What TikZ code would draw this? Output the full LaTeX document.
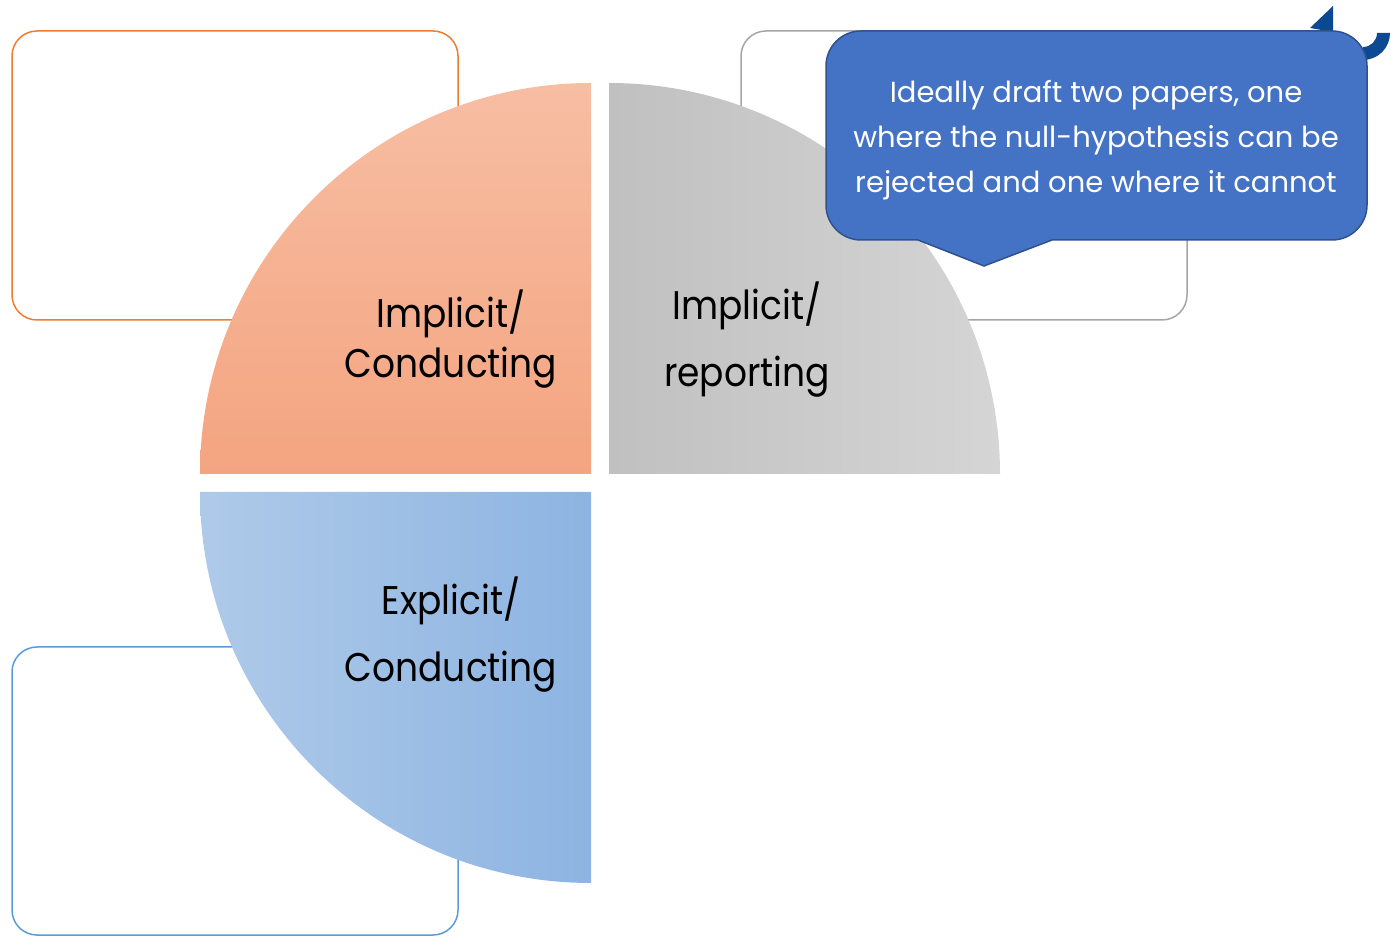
\documentclass[tikz,border=0pt]{standalone}
\usepackage{fontspec}
\setmainfont{Poppins}
\newfontfamily\quartfont[FakeStretch=0.9]{Poppins}
\usetikzlibrary{shadings}
\definecolor{orgA}{HTML}{F7BEA3}
\definecolor{orgB}{HTML}{F4A480}
\definecolor{gryA}{HTML}{C0C0C0}
\definecolor{gryB}{HTML}{D5D5D5}
\definecolor{bluA}{HTML}{AFCAE9}
\definecolor{bluB}{HTML}{8DB4E2}
\definecolor{orgLine}{HTML}{ED7D31}
\definecolor{gryLine}{HTML}{A5A5A5}
\definecolor{bluLine}{HTML}{5B9BD5}
\definecolor{callFill}{HTML}{4472C4}
\definecolor{callLine}{HTML}{2F528F}
\definecolor{deco}{HTML}{0B4A93}
\tikzset{
  outlinebox/.style={line width=1.5pt, rounded corners=25pt},
  quartlabel/.style={anchor=base, font=\quartfont\fontsize{40}{48}\selectfont, text=black, inner sep=0pt},
  calltext/.style={anchor=base, font=\fontsize{29}{34}\selectfont, text=white, inner sep=0pt}
}
\begin{document}
\begin{tikzpicture}[x=1pt,y=1pt]
\useasboundingbox (0,0) rectangle (1391,937);
\clip (0,0) rectangle (1391,937);
% outline boxes
\draw[outlinebox, orgLine] (12,617) rectangle (458,906);
\draw[outlinebox, gryLine] (741,617) rectangle (1187,906);
\draw[outlinebox, bluLine] (12,2) rectangle (458,290);
% quarter disks
\shade[top color=orgA, bottom color=orgB] (591,463) -- (200,463) arc[start angle=180,end angle=90,radius=391pt] -- cycle;
\shade[left color=gryA, right color=gryB] (609,463) -- (609,854) arc[start angle=90,end angle=0,radius=391pt] -- cycle;
\shade[left color=bluA, right color=bluB] (591,445) -- (200,445) arc[start angle=180,end angle=270,radius=391pt] -- cycle;
% labels
\node[quartlabel] (ic1) at (451,609) {Implicit/};
\node[quartlabel] (ic2) at (451,559) {Conducting};
\node[quartlabel] (ir1) at (747,617) {Implicit/};
\node[quartlabel] (ir2) at (747,550) {reporting};
\node[quartlabel] (ec1) at (451,322) {Explicit/};
\node[quartlabel] (ec2) at (451,255) {Conducting};
% decoration top right
\fill[deco] (1310,909) -- (1333,931) -- (1333,905) -- cycle;
\fill[deco] (1390,904) -- (1377,904) arc[start angle=0,end angle=-90,radius=14pt] -- ++(0,-13) arc[start angle=-90,end angle=0,radius=27pt] -- cycle;
% callout
\draw[fill=callFill, draw=callLine, line width=1.5pt] (918,697) -- (984,671) -- (1052,697) -- (1332,697)
  arc[start angle=270,end angle=360,radius=35pt] -- (1367,871)
  arc[start angle=0,end angle=90,radius=35pt] -- (861,906)
  arc[start angle=90,end angle=180,radius=35pt] -- (826,732)
  arc[start angle=180,end angle=270,radius=35pt] -- cycle;
\node[calltext] (t1) at (1096,834) {Ideally draft two papers, one};
\node[calltext] (t2) at (1096,789) {where the null-hypothesis can be};
\node[calltext] (t3) at (1096,744) {rejected and one where it cannot};
\end{tikzpicture}
\end{document}
